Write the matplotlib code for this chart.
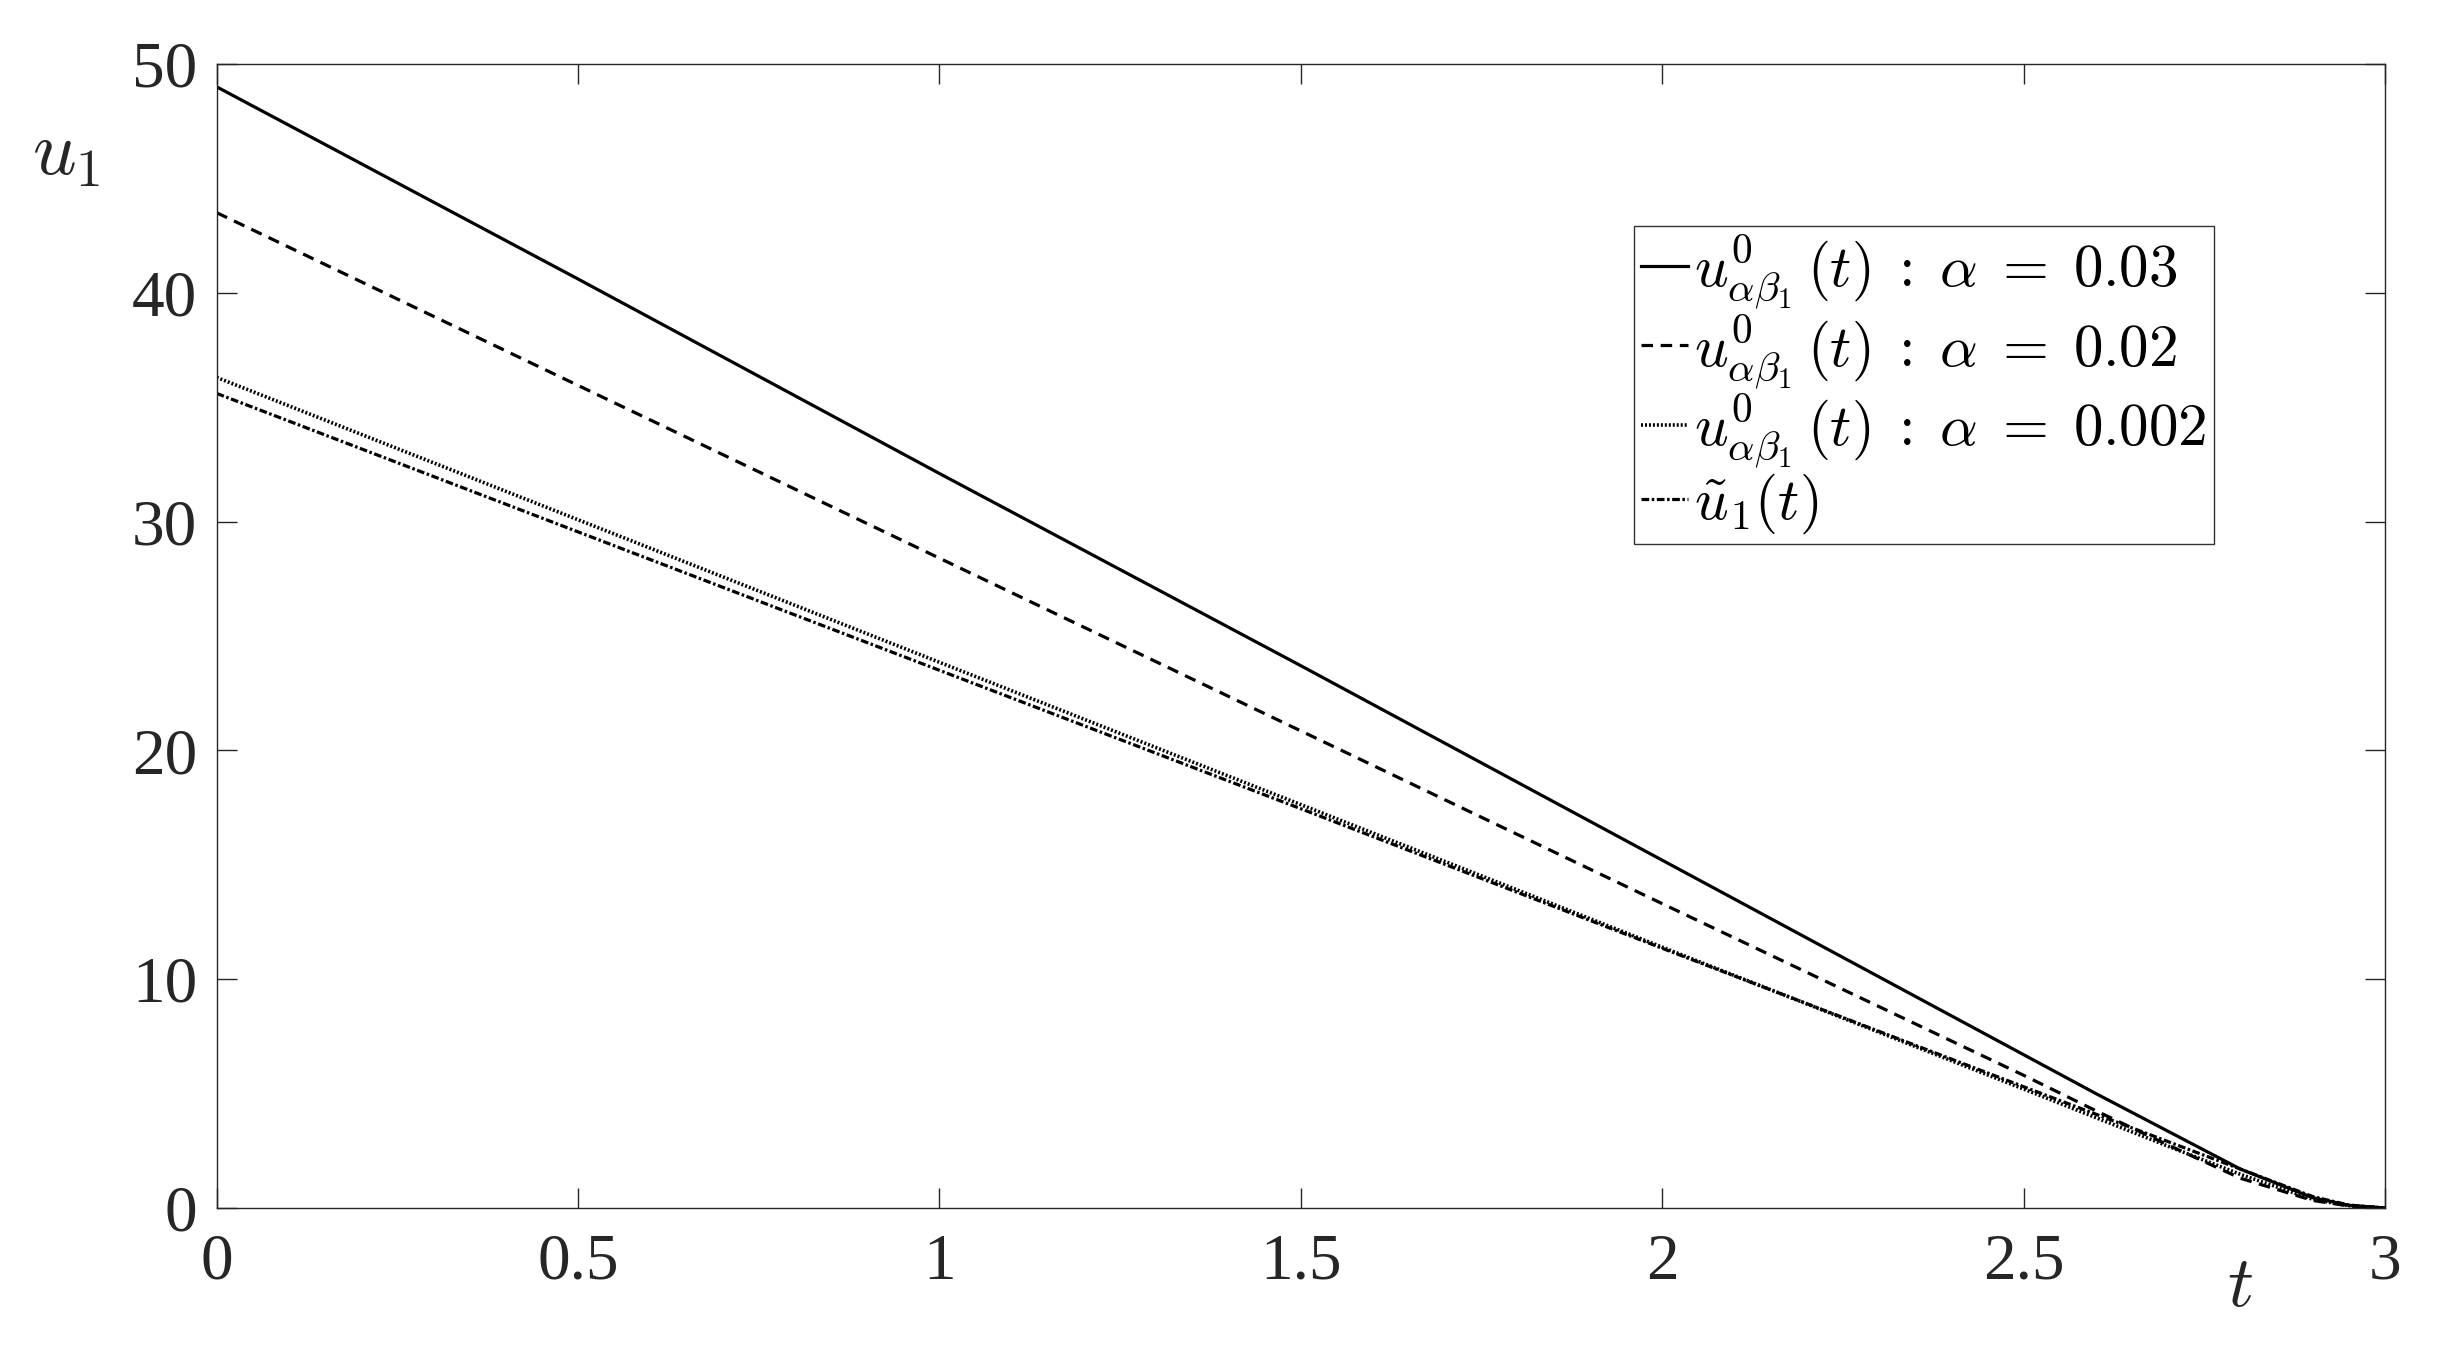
import matplotlib
matplotlib.use("Agg")
import matplotlib.pyplot as plt

plt.rcParams['mathtext.fontset'] = 'cm'
plt.rcParams['font.family'] = ['Liberation Serif', 'DejaVu Serif']

t = [0.0, 0.5, 1.0, 1.5, 2.0, 2.5, 2.6, 2.7, 2.8, 2.9, 2.95, 3.0]
u_a003 = [49.0, 40.6, 32.1, 23.7, 15.2, 6.7, 5.0, 3.35, 1.7, 0.45, 0.12, 0.0]
u_a002 = [43.5, 35.95, 28.4, 20.85, 13.3, 5.8, 4.25, 2.75, 1.3, 0.33, 0.09, 0.0]
u_a0002 = [36.3, 30.08, 23.85, 17.63, 11.4, 5.2, 3.95, 2.7, 1.47, 0.38, 0.1, 0.0]
u_tilde = [35.6, 29.55, 23.5, 17.45, 11.35, 5.3, 4.1, 2.9, 1.7, 0.5, 0.13, 0.0]

labels = [r'$u^0_{\alpha\beta_1}\,(t)\;:\;\alpha\;=\;0.03$',
          r'$u^0_{\alpha\beta_1}\,(t)\;:\;\alpha\;=\;0.02$',
          r'$u^0_{\alpha\beta_1}\,(t)\;:\;\alpha\;=\;0.002$',
          r'$\tilde{u}_1(t)$']

xticks = [0, 0.5, 1, 1.5, 2, 2.5, 3]
xticklabels = ['0', '0.5', '1', '1.5', '2', '2.5', '3']
yticks = [0, 10, 20, 30, 40, 50]

fig = plt.figure(figsize=(24.4, 13.49), dpi=100)
ax = fig.add_axes([0.0888, 0.1045, 0.8887, 0.8481])

lw = 2.3
ax.plot(t, u_a003, color='black', lw=lw, linestyle='-', label=labels[0])
ax.plot(t, u_a002, color='black', lw=lw, linestyle=(0, (3.6, 2.4)), label=labels[1])
ax.plot(t, u_a0002, color='black', lw=2.6, linestyle=(0, (0.55, 0.55)), label=labels[2])
ax.plot(t, u_tilde, color='black', lw=lw, linestyle=(0, (2.4, 0.8, 0.8, 0.8)), label=labels[3])

ax.set_xlim(0, 3)
ax.set_ylim(0, 50)
ax.set_xticks(xticks)
ax.set_xticklabels(xticklabels)
ax.set_yticks(yticks)
ax.tick_params(direction='in', length=14.5, width=1.0, labelsize=47, pad=14,
               top=True, right=True, colors='#262626', labelcolor='#262626')
ax.tick_params(axis='x', pad=18)
for sp in ax.spines.values():
    sp.set_linewidth(1.0)
    sp.set_color('#262626')

fig.text(0.013, 0.885, r'$u_1$', fontsize=55, ha='left', va='center', color='#262626')
fig.text(0.918, 0.045, r'$t$', fontsize=52, ha='center', va='center', color='#262626')

leg = ax.legend(loc='upper left', bbox_to_anchor=(0.6535, 0.858), borderaxespad=0,
                fontsize=42.5, frameon=True, fancybox=False, edgecolor='black',
                handlelength=0.8, handletextpad=0.1, labelspacing=0.03,
                borderpad=0.12)
leg.get_frame().set_linewidth(1.0)

fig.savefig('out.png', dpi=100, facecolor='white')
